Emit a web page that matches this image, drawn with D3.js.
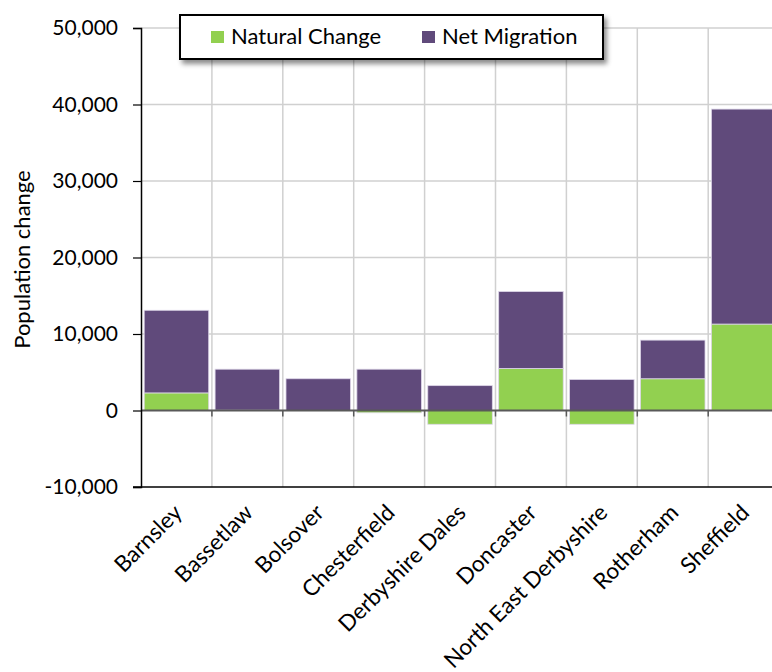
<!DOCTYPE html>
<html>
<head>
<meta charset="utf-8">
<script src="https://cdn.jsdelivr.net/npm/d3@7"></script>
<style>
  body { margin: 0; background: #fff; }
  text { font-family: Lato, "Liberation Sans", sans-serif; fill: #000; }
</style>
</head>
<body>
<div id="chart"></div>
<script>
let width = 772, height = 672

// DATA
let areas = ['Barnsley', 'Bassetlaw', 'Bolsover', 'Chesterfield', 'Derbyshire Dales',
  'Doncaster', 'North East Derbyshire', 'Rotherham', 'Sheffield']
let naturalChange = [2300, 50, 0, -300, -1800, 5500, -1800, 4150, 11300]
let netMigration = [10800, 5350, 4150, 5400, 3250, 10050, 4050, 5050, 28100]
let seriesNames = ['Natural Change', 'Net Migration']
let seriesColors = ['#92d050', '#604a7b']
let yTicks = [-10000, 0, 10000, 20000, 30000, 40000, 50000]

let plot = { left: 141, top: 28, bottom: 487, right: 141 + 9 * 70.9 }

let rows = areas.map((a, i) => ({
  area: a,
  'Natural Change': naturalChange[i],
  'Net Migration': netMigration[i]
}))

let stacked = d3.stack()
  .keys(seriesNames)
  .offset(d3.stackOffsetDiverging)(rows)

// SCALES
let x = d3.scaleBand()
  .domain(areas)
  .range([plot.left, plot.right])
  .paddingInner(0.09)
  .paddingOuter(0.045)

let y = d3.scaleLinear()
  .domain([-10000, 50000])
  .range([plot.bottom, plot.top])

let color = d3.scaleOrdinal().domain(seriesNames).range(seriesColors)

let fmt = d3.formatLocale({ decimal: '.', thousands: ',', grouping: [3], currency: ['', ''], minus: '-' }).format(',')

let svg = d3.select('#chart')
  .append('svg')
  .attr('width', width)
  .attr('height', height)

// GRID LINES
svg.append('g')
  .attr('class', 'grid')
  .selectAll('line')
  .data(yTicks.filter(t => t !== 0 && t !== -10000))
  .enter().append('line')
    .attr('x1', plot.left)
    .attr('x2', plot.right)
    .attr('y1', d => y(d))
    .attr('y2', d => y(d))
    .style('stroke', '#d0d0d0')
    .style('stroke-width', 1.5)

let boundaries = d3.range(1, areas.length + 1).map(i => plot.left + i * x.step())

svg.append('g')
  .selectAll('line')
  .data(boundaries)
  .enter().append('line')
    .attr('x1', d => d)
    .attr('x2', d => d)
    .attr('y1', plot.top)
    .attr('y2', plot.bottom)
    .style('stroke', '#d0d0d0')
    .style('stroke-width', 1.5)

// BARS
svg.append('g')
  .selectAll('g')
  .data(stacked)
  .enter().append('g')
    .style('fill', d => color(d.key))
  .selectAll('rect')
  .data(d => d)
  .enter().append('rect')
    .attr('x', d => x(d.data.area))
    .attr('width', x.bandwidth())
    .attr('y', d => y(Math.max(d[0], d[1])))
    .attr('height', d => Math.abs(y(d[0]) - y(d[1])))
    .style('stroke', '#ddd6e8')
    .style('stroke-width', 0.8)

// ZERO LINE + TICKS
svg.append('line')
  .attr('x1', plot.left)
  .attr('x2', plot.right)
  .attr('y1', y(0))
  .attr('y2', y(0))
  .style('stroke', '#595959')
  .style('stroke-width', 2)

svg.append('g')
  .selectAll('line')
  .data(boundaries)
  .enter().append('line')
    .attr('x1', d => d)
    .attr('x2', d => d)
    .attr('y1', y(0))
    .attr('y2', y(0) + 6)
    .style('stroke', '#595959')
    .style('stroke-width', 1.5)

// BOTTOM LINE
svg.append('line')
  .attr('x1', plot.left - 8)
  .attr('x2', plot.right)
  .attr('y1', plot.bottom)
  .attr('y2', plot.bottom)
  .style('stroke', '#000')
  .style('stroke-width', 1.5)

// Y AXIS
let yAxis = svg.append('g')
  .attr('transform', 'translate(' + plot.left + ',0)')
  .call(d3.axisLeft(y).tickValues(yTicks).tickFormat(fmt).tickSize(8).tickPadding(15))

yAxis.select('.domain').style('stroke', '#000').style('stroke-width', 1.5)
yAxis.selectAll('.tick line').style('stroke', '#000').style('stroke-width', 1.2)
yAxis.selectAll('.tick text')
  .style('font-size', '21px')
  .style('font-family', 'Lato, "Liberation Sans", sans-serif')

svg.append('text')
  .attr('transform', 'translate(30,' + ((plot.top + plot.bottom) / 2 + 2) + ') rotate(-90)')
  .style('text-anchor', 'middle')
  .style('font-size', '22px')
  .text('Population change')

// X LABELS
svg.append('g')
  .selectAll('text')
  .data(areas)
  .enter().append('text')
    .attr('transform', d => 'translate(' + (x(d) + x.bandwidth() / 2 + 7) + ',' + (plot.bottom + 27) + ') rotate(-45)')
    .style('text-anchor', 'end')
    .style('font-size', '22.5px')
    .text(d => d)

// LEGEND
let defs = svg.append('defs')
let filter = defs.append('filter').attr('id', 'shadow').attr('x', '-10%').attr('y', '-30%').attr('width', '130%').attr('height', '190%')
filter.append('feDropShadow')
  .attr('dx', 3).attr('dy', 4).attr('stdDeviation', 2.5)
  .attr('flood-color', '#000').attr('flood-opacity', 0.45)

let legend = svg.append('g')
legend.append('rect')
  .attr('x', 180)
  .attr('y', 15)
  .attr('width', 423)
  .attr('height', 44)
  .style('fill', '#fff')
  .style('stroke', '#000')
  .style('stroke-width', 2)
  .attr('filter', 'url(#shadow)')

let legendX = [211, 422]
let items = legend.selectAll('.item')
  .data(seriesNames)
  .enter().append('g')
    .attr('transform', (d, i) => 'translate(' + legendX[i] + ',31)')

items.append('rect')
  .attr('width', 13)
  .attr('height', 12)
  .style('fill', d => color(d))

items.append('text')
  .attr('x', 20)
  .attr('y', 13)
  .style('font-size', '22px')
  .text(d => d)
</script>
</body>
</html>
